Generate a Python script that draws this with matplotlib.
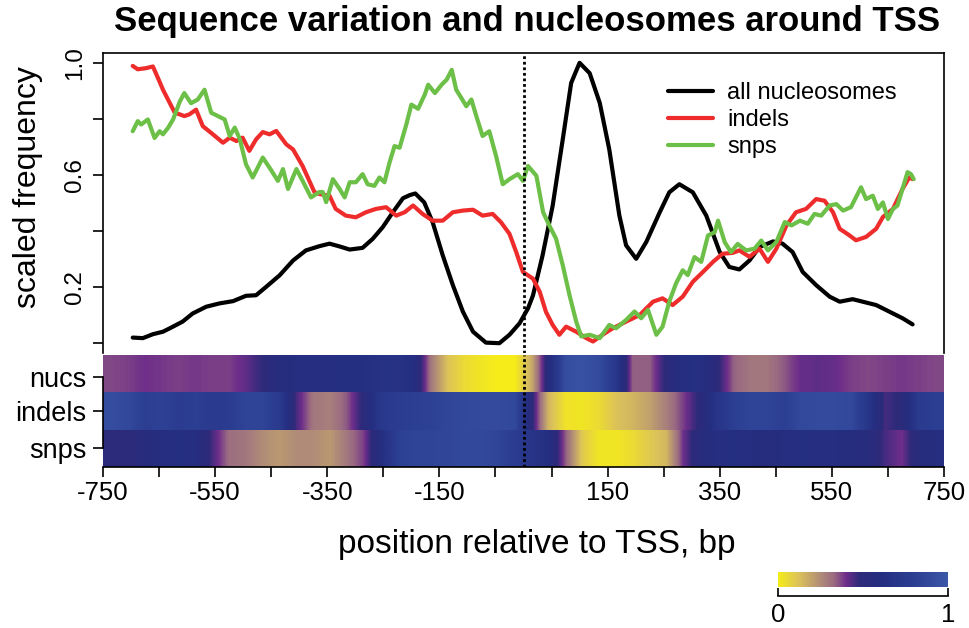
import numpy as np
import matplotlib.pyplot as plt
from matplotlib.colors import LinearSegmentedColormap

plt.rcParams['font.family'] = ['Liberation Sans', 'DejaVu Sans']

###############################################################################
# scaled frequency curves (position in bp, value 0..1)
nuc_pos = [-697, -679, -661, -643, -631, -608, -590, -566, -542, -518, -495,
           -477, -459, -435, -411, -388, -364, -346, -328, -310, -287, -269,
           -251, -233, -215, -203, -193, -177, -162, -144, -126, -108, -90,
           -67, -43, -25, -7, 8, 17, 34, 52, 70, 85, 100, 118, 136, 153, 171,
           183, 201, 219, 243, 260, 278, 302, 326, 350, 367, 385, 403, 421,
           445, 462, 480, 498, 522, 546, 564, 587, 605, 629, 653, 676, 694]
nuc_val = [0.020, 0.018, 0.032, 0.041, 0.053, 0.077, 0.106, 0.130, 0.142,
           0.150, 0.169, 0.171, 0.201, 0.242, 0.295, 0.331, 0.346, 0.355,
           0.345, 0.334, 0.340, 0.372, 0.414, 0.467, 0.517, 0.528, 0.534,
           0.502, 0.431, 0.313, 0.207, 0.112, 0.041, 0.002, 0.000, 0.030,
           0.071, 0.124, 0.171, 0.313, 0.490, 0.727, 0.928, 1.000, 0.963,
           0.857, 0.691, 0.455, 0.349, 0.301, 0.361, 0.467, 0.538, 0.567,
           0.538, 0.455, 0.325, 0.272, 0.263, 0.295, 0.343, 0.363, 0.355,
           0.325, 0.254, 0.207, 0.166, 0.148, 0.157, 0.148, 0.136, 0.112,
           0.089, 0.067]

indel_pos = [-697, -688, -673, -661, -652, -643, -631, -622, -613, -605,
             -596, -584, -572, -554, -536, -524, -512, -501, -489, -477,
             -465, -453, -441, -423, -411, -394, -382, -373, -364, -346,
             -335, -317, -299, -281, -263, -245, -227, -212, -197, -180,
             -162, -144, -126, -108, -90, -73, -55, -40, -25, -13,
             -1, 17, 29, 40, 52, 64, 76, 94, 112, 124,
             141, 159, 183, 207, 231, 248, 266, 284, 302, 320,
             338, 355, 373, 385, 403, 421, 436, 451, 469, 486,
             504, 522, 537, 552, 564, 581, 593, 611, 629, 641,
             659, 676, 688, 694]
indel_val = [0.989, 0.977, 0.981, 0.987, 0.946, 0.904, 0.857, 0.822, 0.816, 0.810,
             0.816, 0.833, 0.774, 0.745, 0.715, 0.733, 0.721, 0.733, 0.686, 0.727,
             0.753, 0.745, 0.757, 0.709, 0.691, 0.632, 0.579, 0.539, 0.532, 0.526,
             0.479, 0.455, 0.449, 0.467, 0.479, 0.485, 0.455, 0.467, 0.491, 0.461,
             0.437, 0.437, 0.467, 0.473, 0.476, 0.455, 0.461, 0.431, 0.390, 0.325,
             0.254, 0.230, 0.183, 0.112, 0.065, 0.030, 0.059, 0.041, 0.018, 0.006,
             0.030, 0.053, 0.077, 0.100, 0.148, 0.160, 0.136, 0.166, 0.219, 0.254,
             0.290, 0.319, 0.322, 0.331, 0.308, 0.337, 0.290, 0.337, 0.420, 0.467,
             0.479, 0.514, 0.508, 0.467, 0.408, 0.385, 0.367, 0.379, 0.408, 0.450,
             0.479, 0.550, 0.591, 0.585]

snp_pos = [-697, -688, -682, -670, -658, -649, -643, -634, -625, -613,
           -605, -593, -581, -569, -557, -545, -533, -524, -515, -506,
           -495, -483, -465, -453, -438, -429, -420, -405, -394, -379,
           -364, -358, -352, -340, -328, -319, -310, -299, -287, -278,
           -266, -257, -248, -239, -230, -221, -209, -200, -188, -176,
           -170, -158, -146, -137, -128, -120, -111, -102, -93, -84,
           -73, -61, -49, -37, -25, -10, -1, 8, 23, 35,
           46, 58, 70, 82, 94, 103, 118, 136, 153, 165,
           183, 198, 210, 222, 237, 248, 260, 272, 284, 293,
           305, 317, 329, 341, 347, 359, 370, 382, 397, 412,
           424, 436, 451, 466, 478, 493, 507, 519, 531, 546,
           558, 570, 584, 602, 611, 623, 632, 641, 650, 659,
           667, 676, 685, 691, 696]
snp_val = [0.756, 0.792, 0.780, 0.798, 0.732, 0.756, 0.745, 0.768, 0.798, 0.862,
           0.892, 0.856, 0.869, 0.904, 0.822, 0.810, 0.798, 0.739, 0.769, 0.728,
           0.638, 0.591, 0.662, 0.626, 0.579, 0.621, 0.550, 0.621, 0.579, 0.520,
           0.539, 0.539, 0.503, 0.585, 0.550, 0.520, 0.574, 0.574, 0.603, 0.567,
           0.561, 0.591, 0.574, 0.644, 0.703, 0.697, 0.780, 0.851, 0.836, 0.887,
           0.922, 0.892, 0.922, 0.940, 0.975, 0.904, 0.875, 0.845, 0.869, 0.809,
           0.739, 0.756, 0.668, 0.567, 0.585, 0.603, 0.579, 0.632, 0.597, 0.467,
           0.420, 0.373, 0.278, 0.172, 0.077, 0.024, 0.030, 0.018, 0.065, 0.053,
           0.083, 0.113, 0.089, 0.119, 0.030, 0.059, 0.148, 0.213, 0.260, 0.243,
           0.307, 0.290, 0.384, 0.396, 0.437, 0.360, 0.325, 0.354, 0.331, 0.337,
           0.366, 0.331, 0.361, 0.432, 0.420, 0.437, 0.426, 0.461, 0.455, 0.491,
           0.496, 0.473, 0.485, 0.556, 0.514, 0.526, 0.479, 0.502, 0.443, 0.479,
           0.491, 0.550, 0.610, 0.603, 0.585]

# heatmap rows, 50 bins of 30 bp from -750 to 750
nuc_heat = [0.37, 0.38, 0.40, 0.39, 0.38, 0.39, 0.38, 0.38, 0.42, 0.48,
            0.58, 0.60, 0.60, 0.61, 0.62, 0.62, 0.65, 0.66, 0.60, 0.30,
            0.12, 0.05, 0.02, 0.00, 0.00, 0.18, 0.55, 0.92, 0.95, 0.90,
            0.72, 0.34, 0.34, 0.50, 0.62, 0.63, 0.50, 0.34, 0.30, 0.30,
            0.35, 0.41, 0.42, 0.41, 0.38, 0.37, 0.38, 0.39, 0.38, 0.37]
indel_heat = [0.92, 0.88, 0.80, 0.82, 0.78, 0.80, 0.75, 0.78, 0.85, 0.85,
              0.75, 0.45, 0.30, 0.28, 0.35, 0.50, 0.72, 0.78, 0.80, 0.82,
              0.86, 0.88, 0.90, 0.90, 0.88, 0.50, 0.15, 0.03, 0.02, 0.05,
              0.12, 0.15, 0.20, 0.28, 0.38, 0.50, 0.68, 0.80, 0.85, 0.85,
              0.80, 0.88, 0.90, 0.90, 0.88, 0.70, 0.45, 0.50, 0.75, 0.80]
snp_heat = [0.50, 0.50, 0.55, 0.60, 0.62, 0.60, 0.45, 0.32, 0.30, 0.25,
            0.22, 0.25, 0.25, 0.22, 0.30, 0.38, 0.60, 0.80, 0.85, 0.85,
            0.86, 0.88, 0.88, 0.85, 0.78, 0.68, 0.62, 0.35, 0.10, 0.02,
            0.02, 0.05, 0.10, 0.15, 0.40, 0.55, 0.60, 0.62, 0.60, 0.58,
            0.60, 0.62, 0.60, 0.60, 0.58, 0.55, 0.45, 0.40, 0.55, 0.60]

# x axis: ticks every 100 bp, R only printed these labels
x_ticks = list(range(-750, 751, 100))
x_labels = [-750, -550, -350, -150, 150, 350, 550, 750]
###############################################################################
cmap = LinearSegmentedColormap.from_list('tss', [
    (0.00, '#F5EC1A'), (0.12, '#DCC25A'), (0.25, '#B08C78'),
    (0.33, '#9A6A82'), (0.40, '#6E2E8A'), (0.48, '#2E2A7A'),
    (0.60, '#252E80'), (0.80, '#2C3E92'), (1.00, '#3C58A8')])

W, H = 969, 628
fig = plt.figure(figsize=(W/100, H/100), dpi=100)
ax1 = fig.add_axes([103/W, 1-353/H, 841/W, 300/H])
ax2 = fig.add_axes([103/W, 1-467/H, 841/W, 112/H])
cax = fig.add_axes([778/W, 1-587/H, 170/W, 15/H])

# top panel: curves
ax1.plot(nuc_pos, nuc_val, color='black', lw=3, label='all nucleosomes',
         solid_joinstyle='round', solid_capstyle='round')
ax1.plot(indel_pos, indel_val, color='#EE2C2C', lw=3, label='indels',
         solid_joinstyle='round', solid_capstyle='round')
ax1.plot(snp_pos, snp_val, color='#6CBF47', lw=3, label='snps',
         solid_joinstyle='round', solid_capstyle='round')
ax1.axvline(0, color='black', lw=2, ls=(0, (1, 1)))
ax1.set_xlim(-750, 750)
ax1.set_ylim(-0.035, 1.035)
ax1.set_xticks([])
ax1.set_yticks([0, 0.2, 0.4, 0.6, 0.8, 1.0])
ax1.set_yticklabels(['', '0.2', '', '0.6', '', '1.0'], rotation=90, va='center')
ax1.tick_params(axis='y', length=7, width=1.2, labelsize=17.5, pad=5)
ax1.spines['bottom'].set_visible(False)
for s in ax1.spines.values():
    s.set_linewidth(1.2)
ax1.legend(loc='upper left', bbox_to_anchor=(668/W, 1-82/H),
           bbox_transform=fig.transFigure, frameon=False, fontsize=17,
           handlelength=1.9, handletextpad=0.6, labelspacing=0.22,
           borderpad=0, borderaxespad=0)

# bottom panel: heatmap rows
for vals, y0 in [(snp_heat, 0), (indel_heat, 1), (nuc_heat, 2)]:
    ax2.imshow(np.array([vals]), extent=(-750, 750, y0, y0 + 1), aspect='auto',
               cmap=cmap, vmin=0, vmax=1, interpolation='bilinear')
ax2.axvline(0, color='black', lw=2, ls=(0, (1, 1)))
ax2.set_xlim(-750, 750)
ax2.set_ylim(0, 3)
ax2.set_xticks(x_ticks)
ax2.set_xticklabels([str(v) if v in x_labels else '' for v in x_ticks])
ax2.set_yticks([0.5, 1.5, 2.4])
ax2.set_yticklabels(['snps', 'indels', 'nucs'])
ax2.tick_params(length=7, width=1.2, labelsize=18.5, pad=3)
ax2.tick_params(axis='y', labelsize=19.5, pad=5)
ax2.spines['top'].set_visible(False)
ax2.spines['right'].set_visible(False)
ax2.spines['left'].set_bounds(0.5, 2.4)
for s in ax2.spines.values():
    s.set_linewidth(1.2)

# colour key
cax.imshow(np.linspace(0, 1, 256)[None, :], extent=(0, 1, 0, 1), aspect='auto',
           cmap=cmap, vmin=0, vmax=1)
cax.set_xlim(0, 1)
cax.set_yticks([])
cax.set_xticks([0, 1])
cax.set_xticklabels(['0', '1'])
for k in ['top', 'left', 'right']:
    cax.spines[k].set_visible(False)
cax.spines['bottom'].set_position(('outward', 6.5))
cax.spines['bottom'].set_linewidth(1.2)
cax.tick_params(axis='x', direction='in', length=6, width=1.2, labelsize=18.5, pad=5)

fig.text(527/W, 1-22/H, 'Sequence variation and nucleosomes around TSS',
         ha='center', va='center', fontsize=25, fontweight='bold')
fig.text(537/W, 1-545/H, 'position relative to TSS, bp',
         ha='center', va='center', fontsize=24)
fig.text(28/W, 1-187/H, 'scaled frequency', ha='center', va='center',
         rotation=90, fontsize=23)

fig.savefig('out.png', dpi=100)
